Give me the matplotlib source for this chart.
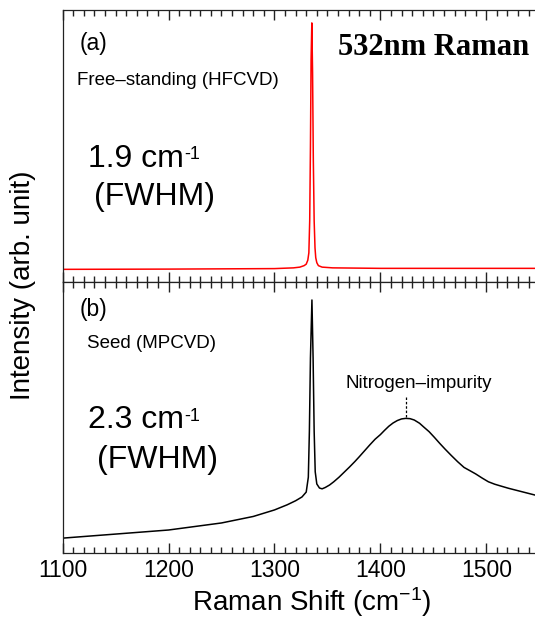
import numpy as np
import matplotlib
matplotlib.use('Agg')
import matplotlib.pyplot as plt

plt.rcParams['font.family'] = ['Liberation Sans', 'DejaVu Sans']
plt.rcParams['mathtext.fontset'] = 'custom'
plt.rcParams['mathtext.rm'] = 'Liberation Sans'
plt.rcParams['mathtext.default'] = 'regular'

# (a) free-standing HFCVD diamond, red trace (normalised intensity)
x_a = [1100, 1200, 1300, 1318, 1324, 1328, 1330, 1331.5, 1332.5, 1333.3, 1334,
       1334.6, 1335.3, 1336, 1336.7, 1337.5, 1338.3, 1339, 1340, 1341.5, 1345,
       1355, 1400, 1500, 1546]
y_a = [0.003, 0.004, 0.006, 0.009, 0.012, 0.018, 0.024, 0.04, 0.07, 0.2, 0.5,
       0.85, 1.0, 0.8, 0.45, 0.2, 0.09, 0.05, 0.03, 0.018, 0.012,
       0.009, 0.007, 0.007, 0.007]

# (b) seed MPCVD diamond, black trace
x_b = [1100, 1150, 1200, 1250, 1280, 1300, 1312, 1320, 1326, 1330, 1332, 1333,
       1334, 1335.4, 1336.5, 1337.5, 1338.5, 1340, 1342.5, 1345, 1348, 1352,
       1356, 1361, 1366, 1371, 1376, 1380, 1385, 1390, 1395, 1400, 1404, 1408,
       1412, 1416, 1420, 1424, 1428, 1432, 1437, 1441, 1446, 1451, 1456, 1461,
       1467, 1473, 1479, 1485, 1490, 1496, 1502, 1508, 1514, 1521, 1527, 1533,
       1540, 1546]
y_b = [0.055, 0.070, 0.085, 0.111, 0.135, 0.159, 0.178, 0.193, 0.207, 0.225,
       0.28, 0.45, 0.72, 0.934, 0.72, 0.45, 0.30, 0.255, 0.240, 0.237, 0.242,
       0.251, 0.263, 0.280, 0.299, 0.318, 0.338, 0.355, 0.377, 0.399, 0.420,
       0.437, 0.453, 0.468, 0.480, 0.489, 0.495, 0.497, 0.496, 0.491, 0.479,
       0.465, 0.448, 0.427, 0.405, 0.384, 0.360, 0.337, 0.316, 0.303, 0.292,
       0.277, 0.263, 0.254, 0.247, 0.239, 0.233, 0.227, 0.220, 0.214]

major_ticks = [1100, 1200, 1300, 1400, 1500]
minor_ticks = [v for v in range(1110, 1550, 10) if v % 100 != 0]

n_peak = 1424   # nitrogen-impurity band position

fig = plt.figure(figsize=(5.35, 6.2), dpi=100)
ax1 = fig.add_axes([0.117, 0.545, 0.883, 0.439])
ax2 = fig.add_axes([0.117, 0.108, 0.883, 0.437])

ax1.plot(x_a, y_a, color='#ff0000', lw=1.1)
ax2.plot(x_b, y_b, color='black', lw=1.1)

ax1.set_ylim(-0.0486, 1.0526)
ax2.set_ylim(0, 1)

for ax in (ax1, ax2):
    ax.set_xlim(1100, 1546)
    ax.set_xticks(major_ticks)
    ax.set_xticks(minor_ticks, minor=True)
    ax.tick_params(axis='x', which='major', direction='in', top=True, bottom=True,
                   length=7, width=1.0, color='#222222')
    ax.tick_params(axis='x', which='minor', direction='in', top=True, bottom=True,
                   length=4, width=1.0, color='#222222')
    ax.set_yticks([])
    ax.spines['right'].set_visible(False)
    for s in ('left', 'top', 'bottom'):
        ax.spines[s].set_linewidth(0.9)
        ax.spines[s].set_color('#222222')

ax1.tick_params(axis='x', labelbottom=False)
ax2.tick_params(axis='x', labelsize=16.5, pad=4)
ax2.set_xlabel('Raman Shift (cm$^{-1}$)', fontsize=20)
ax2.xaxis.set_label_coords(0.527, -0.118)

fig.text(0.043, 0.54, 'Intensity (arb. unit)', rotation=90, fontsize=20,
         ha='center', va='center')

# panel (a) texts
ax1.text(0.037, 0.875, '(a)', transform=ax1.transAxes, fontsize=16.5, va='center')
ax1.text(0.03, 0.74, 'Free\u2013standing (HFCVD)', transform=ax1.transAxes,
         fontsize=13.5, va='center')
t1 = ax1.text(0.054, 0.424, '1.9 cm', transform=ax1.transAxes, fontsize=23,
              va='baseline')
ax1.annotate('-1', xy=(1.0, 0.93), xycoords=t1, fontsize=13, va='top', ha='left')
ax1.text(0.066, 0.3125, '(FWHM)', transform=ax1.transAxes, fontsize=23, va='center')
ax1.text(0.583, 0.835, '532nm Raman', transform=ax1.transAxes, fontsize=22,
         fontweight='bold', family='Liberation Serif', va='baseline')

# panel (b) texts
ax2.text(0.037, 0.900, '(b)', transform=ax2.transAxes, fontsize=16.5, va='center')
ax2.text(0.0515, 0.774, 'Seed (MPCVD)', transform=ax2.transAxes, fontsize=13.5,
         va='center')
t2 = ax2.text(0.054, 0.46, '2.3 cm', transform=ax2.transAxes, fontsize=23,
              va='baseline')
ax2.annotate('-1', xy=(1.0, 0.93), xycoords=t2, fontsize=13, va='top', ha='left')
ax2.text(0.073, 0.343, '(FWHM)', transform=ax2.transAxes, fontsize=23, va='center')

ax2.plot([n_peak, n_peak], [0.503, 0.576], color='black', lw=0.9, ls=(0, (2, 1.5)))
ax2.text(1436, 0.608, 'Nitrogen\u2013impurity', fontsize=13.5, ha='center',
         va='baseline')

fig.savefig('out.png', dpi=100)
